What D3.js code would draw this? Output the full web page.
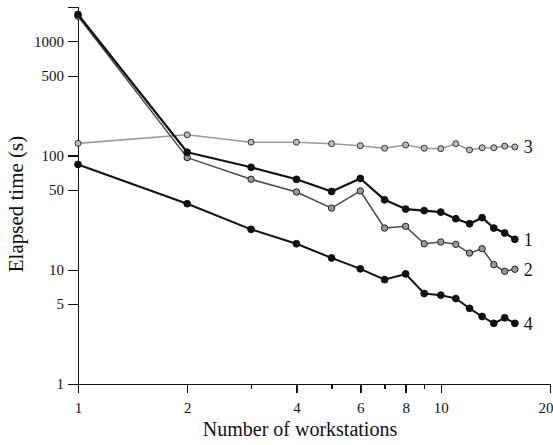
<!DOCTYPE html>
<meta charset="utf-8">
<style>
body { margin: 0; background: #fff; }
.axis path, .axis line { fill: none; stroke: #111; shape-rendering: crispEdges; }
</style>
<body>
<script src="https://d3js.org/d3.v7.min.js"></script>
<script>
// workstation counts (x) and elapsed times in seconds
var workstations = [1, 2, 3, 4, 5, 6, 7, 8, 9, 10, 11, 12, 13, 14, 15, 16];
var series1 = [1720, 107, 79, 62, 48.5, 63, 41, 34, 33, 32, 28, 25.3, 28.6, 23.2, 21, 18.5];
var series2 = [1660, 96, 62, 48, 34.7, 49, 23.2, 24, 16.9, 17.5, 16.7, 14, 15.3, 11.1, 9.7, 10.1];
var series3 = [128, 152, 131, 131, 127, 122, 116, 124, 116, 115, 127, 112, 117, 117, 121, 119];
var series4 = [83.6, 37.9, 22.6, 16.9, 12.7, 10.2, 8.2, 9.2, 6.2, 6.0, 5.6, 4.6, 3.9, 3.4, 3.8, 3.4];
var seriesNames = ["3", "2", "1", "4"];

var xTicks = [1, 2, 3, 4, 5, 6, 7, 8, 9, 10, 20];
var xLabelled = [1, 2, 4, 6, 8, 10, 20];
var yTicks = [1, 5, 10, 50, 100, 500, 1000];

var serif = "'Liberation Serif', 'DejaVu Serif', 'Times New Roman', serif";

var margin = {top: 7, left: 78},
    height = 384 - margin.top;

var x = d3.scaleLog().domain([1, 20]).range([0, 472]);
var y = d3.scaleLog().domain([1, 2000]).range([height, 0]);

var svg = d3.select("body").append("svg")
    .attr("width", 553)
    .attr("height", 445)
    .style("font-family", serif)
  .append("g")
    .attr("transform", "translate(" + margin.left + "," + margin.top + ")");

// x axis
var xAxis = d3.axisBottom(x)
    .tickValues(xTicks)
    .tickSizeOuter(0)
    .tickSize(9)
    .tickPadding(9)
    .tickFormat(function(d) { return xLabelled.indexOf(d) >= 0 ? d : ""; });

var gx = svg.append("g")
    .attr("class", "axis")
    .attr("transform", "translate(0," + height + ")")
    .call(xAxis);
gx.attr("font-family", null);
gx.select(".domain").style("stroke-width", 1.6);
gx.selectAll(".tick line")
    .style("stroke-width", 1.4)
    .attr("y2", function(d) { return xLabelled.indexOf(d) >= 0 ? 9 : 5; });
gx.selectAll(".tick text")
    .style("font-size", "15px")
    .style("font-family", serif)
    .style("fill", "#111");
// the last label sits at the window edge
gx.selectAll(".tick text").filter(function(d) { return d === 20; })
    .style("text-anchor", "end")
    .attr("x", 3);

// y axis
var gy = svg.append("g")
    .attr("class", "axis")
    .call(d3.axisLeft(y).tickValues(yTicks).tickSizeOuter(0).tickSize(10).tickPadding(4)
      .tickFormat(d3.format("d")));
gy.attr("font-family", null);
gy.select(".domain").style("stroke-width", 1.6);
gy.selectAll(".tick line").style("stroke-width", 1.2);
gy.selectAll(".tick text")
    .style("font-size", "15px")
    .style("font-family", serif)
    .style("fill", "#111");

svg.append("text")
    .attr("transform", "rotate(-90)")
    .attr("x", -(204 - margin.top))
    .attr("y", 23 - margin.left)
    .style("text-anchor", "middle")
    .style("font-size", "21px")
    .style("font-family", serif)
    .style("fill", "#111")
    .text("Elapsed time (s)");

svg.append("text")
    .attr("x", 300 - margin.left)
    .attr("y", 436 - margin.top)
    .style("text-anchor", "middle")
    .style("font-size", "20px")
    .style("font-family", serif)
    .style("fill", "#111")
    .text("Number of workstations");

var styles = [
  {values: series3, line: "#9a9a9a", lw: 1.6, fill: "#bbb", dot: "#333", r: 3},
  {values: series2, line: "#4a4a4a", lw: 1.5, fill: "#999", dot: "#222", r: 3.2},
  {values: series1, line: "#111", lw: 2.2, fill: "#111", dot: "#111", r: 3.4},
  {values: series4, line: "#111", lw: 2, fill: "#111", dot: "#111", r: 3.4}
];

var line = d3.line()
    .x(function(d) { return x(d[0]); })
    .y(function(d) { return y(d[1]); });

styles.forEach(function(s, k) {
  var pts = workstations.map(function(w, i) { return [w, s.values[i]]; });
  svg.append("path")
      .datum(pts)
      .attr("d", line)
      .style("fill", "none")
      .style("stroke", s.line)
      .style("stroke-width", s.lw)
      .style("stroke-linejoin", "round");
  svg.selectAll(".dot" + k)
      .data(pts)
    .enter().append("circle")
      .attr("cx", function(d) { return x(d[0]); })
      .attr("cy", function(d) { return y(d[1]); })
      .attr("r", s.r)
      .style("fill", s.fill)
      .style("stroke", s.dot)
      .style("stroke-width", 1);
  var last = pts[pts.length - 1];
  svg.append("text")
      .attr("x", x(last[0]) + 9)
      .attr("y", y(last[1]))
      .attr("dy", ".35em")
      .style("font-size", "18px")
      .style("font-family", serif)
      .style("fill", "#111")
      .text(seriesNames[k]);
});
</script>
